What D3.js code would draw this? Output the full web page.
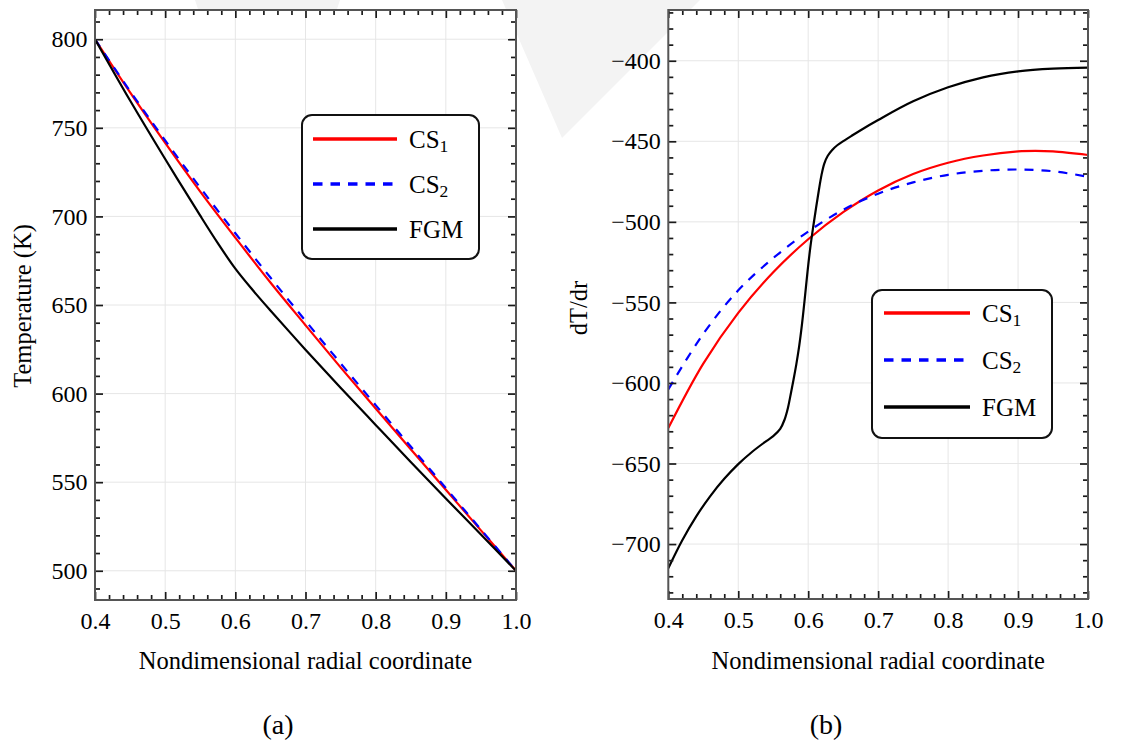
<!DOCTYPE html>
<html>
<head>
<meta charset="utf-8">
<script src="https://cdn.jsdelivr.net/npm/d3@7"></script>
<style>
  html, body { margin: 0; padding: 0; background: #fff; }
  svg { display: block; }
  text { font-family: "Liberation Serif", "Times New Roman", serif !important; fill: #000; }
</style>
</head>
<body>
<svg id="fig" width="1124" height="747"></svg>
<script>
// ---------- (a) temperature profiles ----------
const rTemp = [0.40, 0.45, 0.50, 0.55, 0.60, 0.65, 0.70, 0.75, 0.80, 0.85, 0.90, 0.95, 1.00];
const tempCS1 = [800, 770, 741.5, 714, 688, 662.7, 638.6, 614.8, 591.6, 568.6, 545.7, 522.8, 500];
const tempCS2 = [800, 770.7, 742.9, 716.2, 690.5, 665.5, 641.1, 617.1, 593.5, 570.1, 546.7, 523.3, 500];
const rTempFGM = [0.40, 0.45, 0.50, 0.55, 0.575, 0.60, 0.625, 0.65, 0.70, 0.75, 0.80, 0.85, 0.90, 0.95, 1.00];
const tempFGM = [800, 765.4, 732.4, 700.4, 684.9, 670.5, 658.3, 646.9, 624.8, 603.3, 582.3, 561.4, 540.8, 520.5, 500];

// ---------- (b) temperature gradient ----------
const rGradCS1 = [0.40, 0.45, 0.50, 0.55, 0.60, 0.65, 0.70, 0.75, 0.80, 0.85, 0.90, 0.925, 0.95, 1.00];
const gradCS1 = [-628, -588, -556.5, -531.3, -510.8, -494, -480.5, -470.3, -463.3, -458.8, -456.3, -456, -456.3, -458.5];
const rGradCS2 = [0.40, 0.45, 0.50, 0.55, 0.60, 0.65, 0.70, 0.75, 0.80, 0.85, 0.90, 0.95, 1.00];
const gradCS2 = [-604, -569.5, -542.5, -522.5, -506, -492.5, -482.5, -475.5, -470.8, -468.3, -467.5, -468.6, -472];
const rGradFGM = [0.40, 0.42, 0.44, 0.46, 0.48, 0.50, 0.52, 0.54, 0.55, 0.56, 0.566, 0.571, 0.575, 0.579, 0.583, 0.587,
                  0.591, 0.595, 0.599, 0.603, 0.607, 0.611, 0.615, 0.619, 0.623, 0.628, 0.634, 0.642, 0.652, 0.662,
                  0.675, 0.70, 0.75, 0.80, 0.85, 0.90, 0.95, 1.00];
const gradFGM = [-715, -697.6, -682.8, -670.2, -659.5, -650.4, -642.7, -636.1, -633, -628.5, -623, -615.5, -607, -598, -588.5, -577.5,
                 -564, -548, -531, -516, -503.5, -492, -481, -471, -463.8, -459, -455.5, -452.3, -449.4, -446.6,
                 -443.1, -436.8, -425.2, -416.5, -410.3, -406.6, -404.9, -404.3];

// ---------- axes ----------
const xTicks = [0.4, 0.5, 0.6, 0.7, 0.8, 0.9, 1.0];
const tempTicks = [500, 550, 600, 650, 700, 750, 800];
const gradTicks = [-700, -650, -600, -550, -500, -450, -400];
const seriesNames = ["CS1", "CS2", "FGM"];

const FONT = '"Liberation Serif", "Times New Roman", serif';
const svg = d3.select("#fig");

// faint page watermark behind the panels
const mark = svg.append("g").attr("fill", "#f3f3f3");
mark.append("path").attr("d", "M502,0 L700,0 L562,138 Z");
mark.append("path").attr("d", "M195,0 L340,0 L336,12 L199,12 Z");

let clipId = 0;

function minorTicks(domain, step, majors) {
  const lo = Math.ceil(domain[0] / step - 1e-9), hi = Math.floor(domain[1] / step + 1e-9);
  const out = [];
  for (let i = lo; i <= hi; i++) {
    const v = +(i * step).toFixed(6);
    if (!majors.some(m => Math.abs(m - v) < step * 1e-3)) out.push(v);
  }
  return out;
}

function drawPanel(cfg) {
  const { x, y, yMajor, yFormat, yStep, series, legend, xTitle, yTitle, yTitleX, yTitleY, tag, tagX } = cfg;
  const [x0, x1] = x.range();
  const [yb, yt] = y.range();
  const g = svg.append("g");

  g.append("rect").attr("x", x0).attr("y", yt).attr("width", x1 - x0).attr("height", yb - yt).attr("fill", "#fff");

  // light grid at major ticks
  const grid = g.append("g").attr("stroke", "#e6e6e6").attr("stroke-width", 1);
  grid.selectAll(".gx").data(xTicks).join("line")
    .attr("x1", d => x(d)).attr("x2", d => x(d)).attr("y1", yb).attr("y2", yt);
  grid.selectAll(".gy").data(yMajor).join("line")
    .attr("x1", x0).attr("x2", x1).attr("y1", d => y(d)).attr("y2", d => y(d));

  // curves
  const id = "clip" + (clipId++);
  g.append("clipPath").attr("id", id).append("rect")
    .attr("x", x0).attr("y", yt).attr("width", x1 - x0).attr("height", yb - yt);
  const curves = g.append("g").attr("clip-path", `url(#${id})`);
  const line = d3.line().x(d => x(d[0])).y(d => y(d[1])).curve(d3.curveCatmullRom.alpha(0.5));
  series.forEach(s => {
    curves.append("path")
      .datum(s.r.map((r, i) => [r, s.v[i]]))
      .attr("d", line)
      .attr("fill", "none")
      .attr("stroke", s.color)
      .attr("stroke-width", 2.2)
      .attr("stroke-dasharray", s.dash || null)
      .attr("stroke-linejoin", "round");
  });

  // axes with inward ticks on all four sides
  const xMinor = minorTicks(x.domain(), 0.02, xTicks);
  const yMinor = minorTicks(y.domain(), yStep, yMajor);
  const styleAxis = sel => {
    sel.select(".domain").remove();
    sel.attr("font-family", FONT).attr("font-size", 24);
    sel.selectAll(".tick line").attr("stroke", "#1a1a1a").attr("stroke-width", 1.7);
    sel.selectAll(".tick text").attr("font-family", FONT).style("font-family", FONT)
      .style("font-size", "24px").attr("fill", "#000");
  };
  const add = (axis, tx, ty) => g.append("g").attr("transform", `translate(${tx},${ty})`).call(axis).call(styleAxis);

  add(d3.axisBottom(x).tickValues(xTicks).tickSize(-8).tickPadding(11.5).tickFormat(d3.format(".1f")), 0, yb);
  add(d3.axisBottom(x).tickValues(xMinor).tickSize(-5).tickFormat(""), 0, yb);
  add(d3.axisTop(x).tickValues(xTicks).tickSize(-8).tickFormat(""), 0, yt);
  add(d3.axisTop(x).tickValues(xMinor).tickSize(-5).tickFormat(""), 0, yt);
  add(d3.axisLeft(y).tickValues(yMajor).tickSize(-8).tickPadding(7.5).tickFormat(yFormat), x0, 0);
  add(d3.axisLeft(y).tickValues(yMinor).tickSize(-5).tickFormat(""), x0, 0);
  add(d3.axisRight(y).tickValues(yMajor).tickSize(-8).tickFormat(""), x1, 0);
  add(d3.axisRight(y).tickValues(yMinor).tickSize(-5).tickFormat(""), x1, 0);

  // frame
  g.append("rect").attr("x", x0).attr("y", yt).attr("width", x1 - x0).attr("height", yb - yt)
    .attr("fill", "none").attr("stroke", "#555").attr("stroke-width", 2);

  // titles
  g.append("text").attr("x", (x0 + x1) / 2).attr("y", 669).attr("text-anchor", "middle")
    .style("font-family", FONT).style("font-size", "24.5px").text(xTitle);
  g.append("text").attr("transform", `translate(${yTitleX},${yTitleY}) rotate(-90)`)
    .attr("text-anchor", "middle").style("font-family", FONT).style("font-size", "24.5px").text(yTitle);
  g.append("text").attr("x", tagX).attr("y", 734).attr("text-anchor", "middle")
    .style("font-family", FONT).style("font-size", "28px").text(tag);

  // legend
  const L = legend;
  const lg = g.append("g").attr("transform", `translate(${L.x},${L.y})`);
  lg.append("rect").attr("width", L.w).attr("height", L.h).attr("rx", 10).attr("ry", 10)
    .attr("fill", "#fff").attr("stroke", "#111").attr("stroke-width", 2);
  series.forEach((s, i) => {
    const cy = L.row0 + i * L.gap;
    lg.append("line").attr("x1", L.lx0).attr("x2", L.lx1).attr("y1", cy).attr("y2", cy)
      .attr("stroke", s.color).attr("stroke-width", 3.4).attr("stroke-dasharray", s.dash ? "9.5,8" : null);
    const t = lg.append("text").attr("x", L.tx).attr("y", cy + 8.5)
      .style("font-family", FONT).style("font-size", "25px");
    const m = /^([A-Z]+)(\d?)$/.exec(s.name);
    t.append("tspan").text(m[1]);
    if (m[2]) t.append("tspan").style("font-size", "17.5px").attr("dy", 4.5).text(m[2]);
  });
}

const colors = ["#ff0000", "#0000ff", "#000000"];

drawPanel({
  x: d3.scaleLinear().domain([0.4, 1.0]).range([95, 516]),
  y: d3.scaleLinear().domain([483.5, 816.5]).range([600, 10]),
  yMajor: tempTicks, yStep: 10, yFormat: d3.format("d"),
  series: [
    { name: seriesNames[0], r: rTemp, v: tempCS1, color: colors[0] },
    { name: seriesNames[1], r: rTemp, v: tempCS2, color: colors[1], dash: "9,8" },
    { name: seriesNames[2], r: rTempFGM, v: tempFGM, color: colors[2] }
  ],
  legend: { x: 302, y: 115, w: 177, h: 144, row0: 24, gap: 45, lx0: 11, lx1: 95, tx: 107 },
  xTitle: "Nondimensional radial coordinate",
  yTitle: "Temperature (K)", yTitleX: 31, yTitleY: 306,
  tag: "(a)", tagX: 278
});

drawPanel({
  x: d3.scaleLinear().domain([0.4, 1.0]).range([668.3, 1088]),
  y: d3.scaleLinear().domain([-734.1, -368.5]).range([599, 10]),
  yMajor: gradTicks, yStep: 10, yFormat: d3.format("d"),
  series: [
    { name: seriesNames[0], r: rGradCS1, v: gradCS1, color: colors[0] },
    { name: seriesNames[1], r: rGradCS2, v: gradCS2, color: colors[1], dash: "9,8" },
    { name: seriesNames[2], r: rGradFGM, v: gradFGM, color: colors[2] }
  ],
  legend: { x: 872, y: 290, w: 180, h: 148, row0: 23, gap: 47, lx0: 12, lx1: 98, tx: 110 },
  xTitle: "Nondimensional radial coordinate",
  yTitle: "dT/dr", yTitleX: 587, yTitleY: 308,
  tag: "(b)", tagX: 826
});
</script>
</body>
</html>
